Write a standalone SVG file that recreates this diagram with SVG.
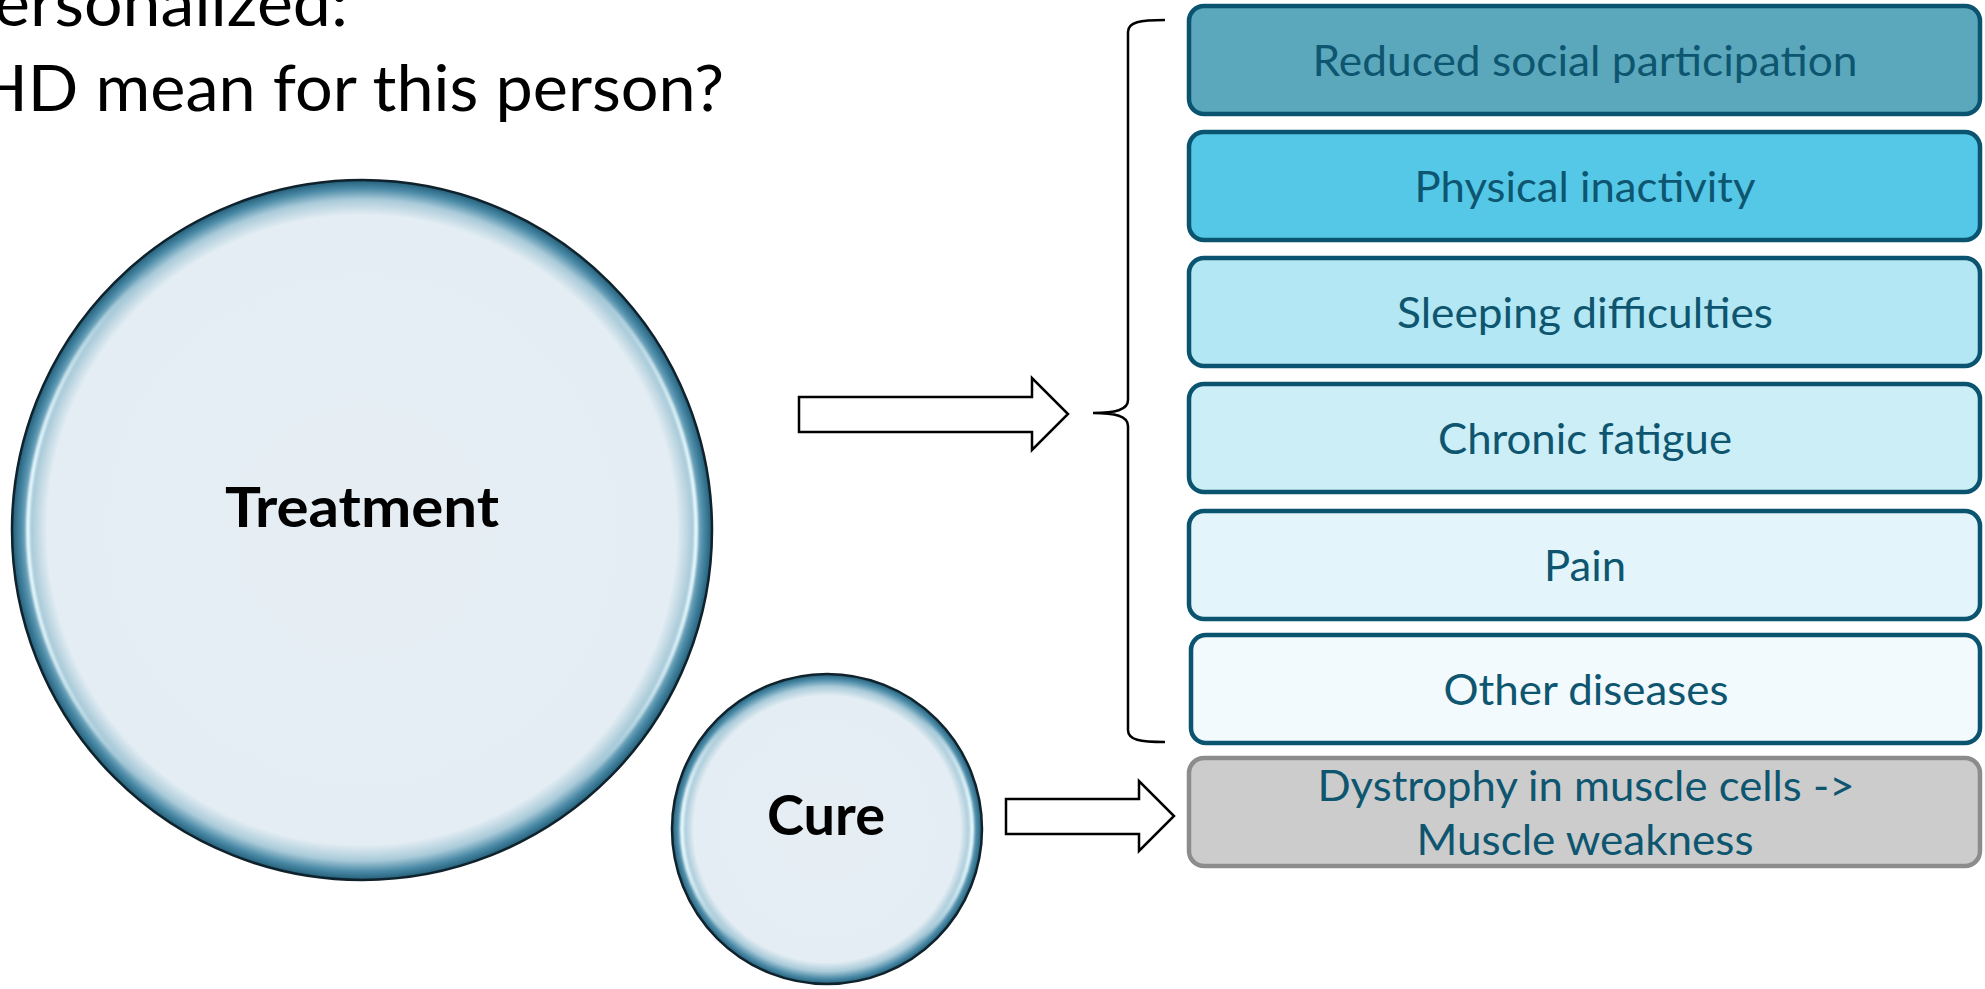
<svg xmlns="http://www.w3.org/2000/svg" width="1985" height="989" viewBox="0 0 1985 989">
<style>
.title{font-family:Lato,"Liberation Sans",sans-serif;font-size:64px;fill:#000}
.big{font-family:Lato,"Liberation Sans",sans-serif;font-weight:bold;font-size:56px;fill:#000;text-anchor:middle}
.box{stroke:#0A5470;stroke-width:4.5}
.lbl{font-family:Lato,"Liberation Sans",sans-serif;font-size:42px;fill:#0E5670;text-anchor:middle}
.bub{stroke:#10222C;stroke-width:2.5}
.hl{fill:none;stroke:url(#hlg);stroke-width:4;filter:url(#soft)}
.arrow{fill:#fff;stroke:#000;stroke-width:2.5;stroke-linejoin:miter}
</style>
<defs>
<radialGradient id="bubble" cx="0.5" cy="0.5" r="0.5">
<stop offset="0" stop-color="#E6EEF4"/>
<stop offset="0.9" stop-color="#E3EDF3"/>
<stop offset="0.945" stop-color="#A9CAD9"/>
<stop offset="0.975" stop-color="#4D8CA8"/>
<stop offset="0.995" stop-color="#2A6783"/>
<stop offset="1" stop-color="#1A4A60"/>
</radialGradient>
<radialGradient id="bubbleS" cx="0.5" cy="0.5" r="0.5">
<stop offset="0" stop-color="#E6EEF4"/>
<stop offset="0.86" stop-color="#E3EDF3"/>
<stop offset="0.92" stop-color="#A9CAD9"/>
<stop offset="0.965" stop-color="#4D8CA8"/>
<stop offset="0.993" stop-color="#2A6783"/>
<stop offset="1" stop-color="#1A4A60"/>
</radialGradient>
<linearGradient id="hlg" x1="0" y1="0" x2="1" y2="0">
<stop offset="0" stop-color="#E8FAFF" stop-opacity="1"/>
<stop offset="0.18" stop-color="#E8FAFF" stop-opacity="0"/>
<stop offset="0.82" stop-color="#E8FAFF" stop-opacity="0"/>
<stop offset="1" stop-color="#E8FAFF" stop-opacity="1"/>
</linearGradient>
<filter id="soft" x="-10%" y="-10%" width="120%" height="120%"><feGaussianBlur stdDeviation="1.2"/></filter>
</defs>
<rect width="1985" height="989" fill="#fff"/>
<g id="title">
<text class="title" x="-6" y="26" textLength="354" lengthAdjust="spacingAndGlyphs">ersonalized:</text>
<text class="title" x="-23" y="111" textLength="747" lengthAdjust="spacingAndGlyphs">HD mean for this person?</text>
</g>
<g id="treatment">
<circle class="bub" cx="362" cy="530" r="350" fill="url(#bubble)"/>
<circle class="hl" cx="362" cy="530" r="334"/>
<text class="big" x="362" y="527" textLength="274" lengthAdjust="spacingAndGlyphs">Treatment</text>
</g>
<g id="cure">
<circle class="bub" cx="827" cy="829" r="155" fill="url(#bubbleS)"/>
<circle class="hl" cx="827" cy="829" r="145"/>
<text class="big" x="826" y="835" textLength="118" lengthAdjust="spacingAndGlyphs">Cure</text>
</g>
<g id="connectors">
<polygon class="arrow" points="799,397 1032,397 1032,378 1068,414 1032,450 1032,432 799,432"/>
<polygon class="arrow" points="1006,799 1139,799 1139,781 1174,816 1139,851 1139,834 1006,834"/>
<path d="M1165 20 C1140 20 1128 22 1128 32 L1128 400 C1128 410 1115 413 1093 413 C1115 413 1128 416 1128 426 L1128 730 C1128 740 1140 742 1165 742" fill="none" stroke="#000" stroke-width="2.5"/>
</g>
<g id="box1">
<rect class="box" x="1189" y="6" width="791" height="108" rx="15" fill="#5BA8BD"/>
<text class="lbl" x="1585" y="76" textLength="545" lengthAdjust="spacingAndGlyphs">Reduced social participation</text>
</g>
<g id="box2">
<rect class="box" x="1189" y="132" width="791" height="108" rx="15" fill="#55C8E8"/>
<text class="lbl" x="1585" y="202" textLength="341" lengthAdjust="spacingAndGlyphs">Physical inactivity</text>
</g>
<g id="box3">
<rect class="box" x="1189" y="258" width="791" height="108" rx="15" fill="#B3E7F3"/>
<text class="lbl" x="1585" y="328" textLength="376" lengthAdjust="spacingAndGlyphs">Sleeping difficulties</text>
</g>
<g id="box4">
<rect class="box" x="1189" y="384" width="791" height="108" rx="15" fill="#CCEEF7"/>
<text class="lbl" x="1585" y="454" textLength="294" lengthAdjust="spacingAndGlyphs">Chronic fatigue</text>
</g>
<g id="box5">
<rect class="box" x="1189" y="511" width="791" height="108" rx="15" fill="#E3F5FA"/>
<text class="lbl" x="1585" y="581" textLength="82" lengthAdjust="spacingAndGlyphs">Pain</text>
</g>
<g id="box6">
<rect class="box" x="1191" y="635" width="789" height="108" rx="15" fill="#F2FAFD"/>
<text class="lbl" x="1586" y="705" textLength="285" lengthAdjust="spacingAndGlyphs">Other diseases</text>
</g>
<g id="box7">
<rect x="1189" y="758" width="791" height="108" rx="15" fill="#CCCCCC" stroke="#8C8C8C" stroke-width="4.5"/>
<text class="lbl" x="1586" y="801" textLength="537" lengthAdjust="spacingAndGlyphs">Dystrophy in muscle cells -&gt;</text>
<text class="lbl" x="1585" y="855" textLength="337" lengthAdjust="spacingAndGlyphs">Muscle weakness</text>
</g>
</svg>
